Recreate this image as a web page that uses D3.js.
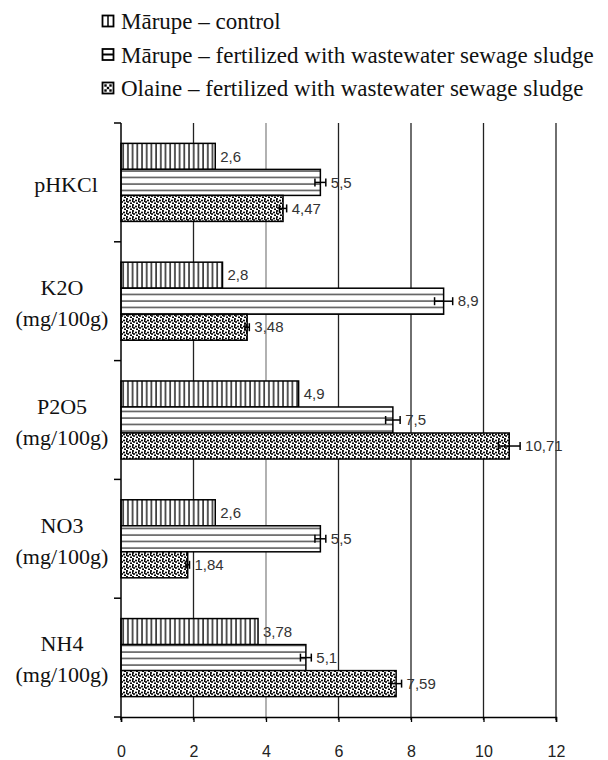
<!DOCTYPE html>
<html><head><meta charset="utf-8">
<script src="https://cdn.jsdelivr.net/npm/d3@7"></script>
<style>body{margin:0;background:#fff}</style>
</head><body>
<script>
const categories = ["pHKCl", "K2O", "P2O5", "NO3", "NH4"];
const categorySub = ["", "(mg/100g)", "(mg/100g)", "(mg/100g)", "(mg/100g)"];
const seriesNames = ["Mārupe – control", "Mārupe –  fertilized with wastewater sewage sludge", "Olaine – fertilized with wastewater sewage sludge"];
const controlValues = [2.6, 2.8, 4.9, 2.6, 3.78];
const fertMarupeValues = [5.5, 8.9, 7.5, 5.5, 5.1];
const fertOlaineValues = [4.47, 3.48, 10.71, 1.84, 7.59];
const controlErr = [0, 0, 0, 0, 0];
const fertMarupeErr = [0.15, 0.25, 0.2, 0.15, 0.15];
const fertOlaineErr = [0.1, 0.06, 0.3, 0.05, 0.15];
const valueLabels = [
  ["2,6", "2,8", "4,9", "2,6", "3,78"],
  ["5,5", "8,9", "7,5", "5,5", "5,1"],
  ["4,47", "3,48", "10,71", "1,84", "7,59"]
];
const xTicks = [0, 2, 4, 6, 8, 10, 12];

const W = 608, H = 760;
const svg = d3.select("body").append("svg").attr("width", W).attr("height", H)
  .style("font-family", "'Liberation Sans', Arial, sans-serif");

const defs = svg.append("defs");
const pV = defs.append("pattern").attr("id", "pv").attr("patternUnits", "userSpaceOnUse")
  .attr("width", 4.7).attr("height", 10);
pV.append("rect").attr("width", 4.7).attr("height", 10).attr("fill", "#fff");
pV.append("line").attr("x1", 1).attr("x2", 1).attr("y1", 0).attr("y2", 10).attr("stroke", "#000").attr("stroke-width", 1.3);
const pH = defs.append("pattern").attr("id", "ph").attr("patternUnits", "userSpaceOnUse")
  .attr("width", 10).attr("height", 6.5);
pH.append("rect").attr("width", 10).attr("height", 6.5).attr("fill", "#fff");
pH.append("line").attr("x1", 0).attr("x2", 10).attr("y1", 2).attr("y2", 2).attr("stroke", "#222").attr("stroke-width", 1.2);
const pD = defs.append("pattern").attr("id", "pd").attr("patternUnits", "userSpaceOnUse")
  .attr("width", 6).attr("height", 6);
pD.append("rect").attr("width", 6).attr("height", 6).attr("fill", "#fff");
[[1,1],[4,2.5],[2,4],[5,5.3],[0.5,3]].forEach(([cx,cy]) =>
  pD.append("circle").attr("cx", cx).attr("cy", cy).attr("r", 1.05).attr("fill", "#000"));
const patterns = ["url(#pv)", "url(#ph)", "url(#pd)"];

const x = d3.scaleLinear().domain([0, 12]).range([121, 556]);
const y0 = d3.scaleBand().domain(categories).range([123, 717]).paddingInner(0.343).paddingOuter(0.1715);
const y1 = d3.scaleBand().domain([0, 1, 2]).range([0, y0.bandwidth()]);

const series = [controlValues, fertMarupeValues, fertOlaineValues];
const errs = [controlErr, fertMarupeErr, fertOlaineErr];

svg.append("g").selectAll("line").data(xTicks.slice(1)).join("line")
  .attr("x1", d => x(d)).attr("x2", d => x(d)).attr("y1", 123).attr("y2", 720)
  .attr("stroke", d => d === 4 ? "#888" : "#222").attr("stroke-width", 1.3);

series.forEach((vals, s) => {
  const g = svg.append("g");
  categories.forEach((c, i) => {
    const yy = y0(c) + y1(s);
    const h = y1.bandwidth();
    g.append("rect").attr("x", x(0)).attr("y", yy).attr("width", x(vals[i]) - x(0)).attr("height", h)
      .attr("fill", patterns[s]).attr("stroke", "#000").attr("stroke-width", 1.5);
    let endX = x(vals[i]);
    const e = errs[s][i];
    if (e > 0) {
      const cy = yy + h / 2;
      g.append("line").attr("x1", x(vals[i] - e)).attr("x2", x(vals[i] + e)).attr("y1", cy).attr("y2", cy)
        .attr("stroke", "#000").attr("stroke-width", 1.5);
      [vals[i] - e, vals[i] + e].forEach(v =>
        g.append("line").attr("x1", x(v)).attr("x2", x(v)).attr("y1", cy - 4).attr("y2", cy + 4)
          .attr("stroke", "#000").attr("stroke-width", 1.5));
      endX = x(vals[i] + e);
    }
    g.append("text").attr("x", endX + 5).attr("y", yy + h / 2).attr("dy", "0.35em")
      .attr("font-size", 15).attr("fill", "#333").text(valueLabels[s][i]);
  });
});

svg.append("line").attr("x1", 121).attr("x2", 121).attr("y1", 123).attr("y2", 720)
  .attr("stroke", "#000").attr("stroke-width", 1.5);
const bounds = d3.range(categories.length + 1).map(i => 123 + i * (594 / categories.length));
svg.append("g").selectAll("line").data(bounds).join("line")
  .attr("x1", 114).attr("x2", 121).attr("y1", d => d).attr("y2", d => d)
  .attr("stroke", "#000").attr("stroke-width", 1.5);

const xAxis = svg.append("g").attr("transform", "translate(0,717)")
  .call(d3.axisBottom(x).tickValues(xTicks).tickSize(5).tickPadding(24).tickFormat(d3.format("d")));
xAxis.select(".domain").attr("stroke", "#000").attr("stroke-width", 1.5);
xAxis.selectAll(".tick line").attr("stroke", "#000").attr("stroke-width", 1.3);
xAxis.selectAll("text").attr("font-size", 16).attr("fill", "#222")
  .attr("font-family", "'Liberation Sans', Arial, sans-serif");

const catG = svg.append("g").attr("font-family", "'Liberation Serif', 'Times New Roman', serif")
  .attr("font-size", 22).attr("fill", "#111").attr("text-anchor", "middle");
categories.forEach((c, i) => {
  const cy = y0(c) + y0.bandwidth() / 2;
  if (categorySub[i]) {
    catG.append("text").attr("x", 62).attr("y", cy - 14).attr("dy", "0.35em").text(c);
    catG.append("text").attr("x", 62).attr("y", cy + 17).attr("dy", "0.35em").text(categorySub[i]);
  } else {
    catG.append("text").attr("x", 66).attr("y", cy + 2).attr("dy", "0.35em").text(c);
  }
});

const leg = svg.append("g").attr("font-family", "'Liberation Serif', 'Times New Roman', serif")
  .attr("font-size", 23).attr("fill", "#111");
const legPatterns = [
  g => { g.append("line").attr("x1", 5.5).attr("x2", 5.5).attr("y1", 0).attr("y2", 11).attr("stroke", "#000").attr("stroke-width", 1.5); },
  g => { g.append("line").attr("x1", 0).attr("x2", 11).attr("y1", 5.5).attr("y2", 5.5).attr("stroke", "#000").attr("stroke-width", 2); },
  g => { [[3,3],[8,3],[5.5,5.5],[3,8],[8,8]].forEach(([cx,cy]) => g.append("rect").attr("x", cx - 1.2).attr("y", cy - 1.2).attr("width", 2.4).attr("height", 2.4).attr("fill", "#000")); }
];
seriesNames.forEach((n, i) => {
  const ly = 21 + i * 33.5;
  const bg = leg.append("g").attr("transform", `translate(102.5,${ly - 5.5})`);
  bg.append("rect").attr("width", 11).attr("height", 11).attr("fill", "#fff");
  legPatterns[i](bg);
  bg.append("rect").attr("width", 11).attr("height", 11).attr("fill", "none").attr("stroke", "#000").attr("stroke-width", 1.8);
  leg.append("text").attr("x", 121).attr("y", ly).attr("dy", "0.35em").text(n);
});
</script>
</body></html>
